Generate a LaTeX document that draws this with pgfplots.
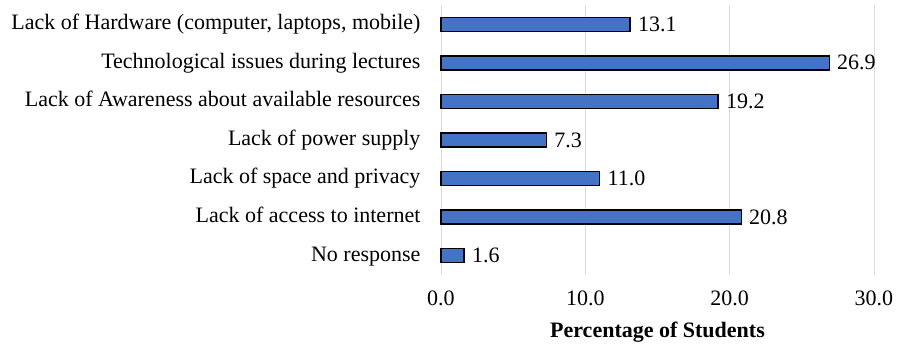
\documentclass[border=0pt]{standalone}
\usepackage{pgfplots}
\pgfplotsset{compat=1.18}
\usepackage{fontspec}
\setmainfont{Liberation Serif}
\definecolor{barblue}{HTML}{4472C4}
\begin{document}
\begin{tikzpicture}
\begin{axis}[
  name=ax,
  scale only axis,
  width=433pt, height=270pt,
  xbar, bar width=14pt,
  xmin=0, xmax=30,
  ymin=-0.5, ymax=6.5,
  xtick={0,10,20,30},
  ytick={0,1,2,3,4,5,6},
  yticklabels={No response, Lack of access to internet, Lack of space and privacy, Lack of power supply, Lack of Awareness about available resources, Technological issues during lectures, {Lack of Hardware (computer, laptops, mobile)}},
  xmajorgrids, grid style={gray!30, line width=0.8pt},
  axis line style={draw=none},
  major tick length=0pt,
  tick label style={font=\fontsize{22}{26}\selectfont},
  /pgf/number format/assume math mode=true,
  xticklabel={\pgfmathprintnumber[fixed,fixed zerofill,precision=1]{\tick}},
  xticklabel style={yshift=-12pt},
  yticklabel style={xshift=-17pt, yshift=-3pt, text height=0.68em, text depth=0.22em},
  xlabel={\textbf{Percentage of Students}},
  xlabel style={font=\fontsize{22}{26}\selectfont, yshift=-10pt},
  nodes near coords={\pgfmathprintnumber[fixed,fixed zerofill,precision=1]{\pgfplotspointmeta}},
  point meta=explicit,
  every node near coord/.append style={font=\fontsize{22}{26}\selectfont, anchor=west, xshift=4pt},
  clip=false,
]
\addplot[fill=barblue, draw=black, line width=1.3pt] coordinates {
  (1.6,0) [1.6]
  (20.8,1) [20.8]
  (11.0,2) [11.0]
  (7.3,3) [7.3]
  (19.2,4) [19.2]
  (26.9,5) [26.9]
  (13.1,6) [13.1]
};
\end{axis}
\path (ax.south west) -- ++(-441pt,-70pt);
\path (ax.north east) -- ++(25pt,5pt);
\end{tikzpicture}
\end{document}
